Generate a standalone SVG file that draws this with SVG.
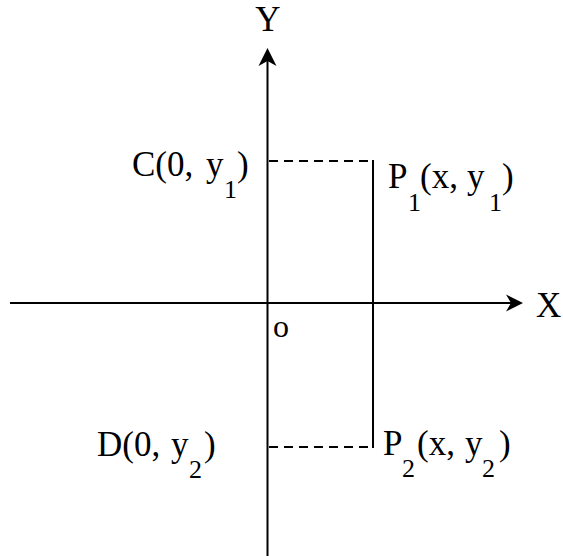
<svg xmlns="http://www.w3.org/2000/svg" width="563" height="556" viewBox="0 0 563 556">
<style>
.t{font-family:"Liberation Serif","Times New Roman",serif;font-size:35px;fill:#000}
.s{font-size:26px}
.ax{stroke:#000;stroke-width:2;fill:none}
.dash{stroke:#000;stroke-width:2;fill:none;stroke-dasharray:9 6}
</style>
<rect width="563" height="556" fill="#fff"/>
<g id="connectors">
<line class="ax" x1="267.5" y1="58" x2="267.5" y2="556"/>
<path d="M267.5,48 L276.5,66 L267.5,61 L258.5,66 Z" fill="#000"/>
<line class="ax" x1="10" y1="303" x2="513" y2="303"/>
<path d="M523,303 L506,294.5 L511,303 L506,311.5 Z" fill="#000"/>
<line class="dash" x1="269" y1="161" x2="373" y2="161"/>
<line class="dash" x1="269" y1="447" x2="373" y2="447"/>
<line class="ax" x1="373" y1="160" x2="373" y2="448"/>
</g>
<g id="labelY"><text class="t" x="268" y="31" text-anchor="middle">Y</text></g>
<g id="labelX"><text class="t" x="536" y="317">X</text></g>
<g id="labelO"><text class="t" x="273" y="337" style="font-size:32px">o</text></g>
<g id="nodeC">
<text class="t"><tspan x="132" y="176">C(0,</tspan><tspan x="206" y="176">y</tspan><tspan class="s" x="224" y="198">1</tspan><tspan x="237" y="176">)</tspan></text>
</g>
<g id="nodeP1">
<text class="t"><tspan x="388" y="188">P</tspan><tspan class="s" x="408" y="211">1</tspan><tspan x="420" y="188">(x,</tspan><tspan x="467" y="188">y</tspan><tspan class="s" x="489" y="211">1</tspan><tspan x="502" y="188">)</tspan></text>
</g>
<g id="nodeD">
<text class="t"><tspan x="97" y="456">D(0,</tspan><tspan x="171" y="456">y</tspan><tspan class="s" x="189" y="478">2</tspan><tspan x="204" y="456">)</tspan></text>
</g>
<g id="nodeP2">
<text class="t"><tspan x="383" y="455">P</tspan><tspan class="s" x="402" y="477">2</tspan><tspan x="417" y="455">(x,</tspan><tspan x="465" y="455">y</tspan><tspan class="s" x="482" y="477">2</tspan><tspan x="499" y="455">)</tspan></text>
</g>
</svg>
